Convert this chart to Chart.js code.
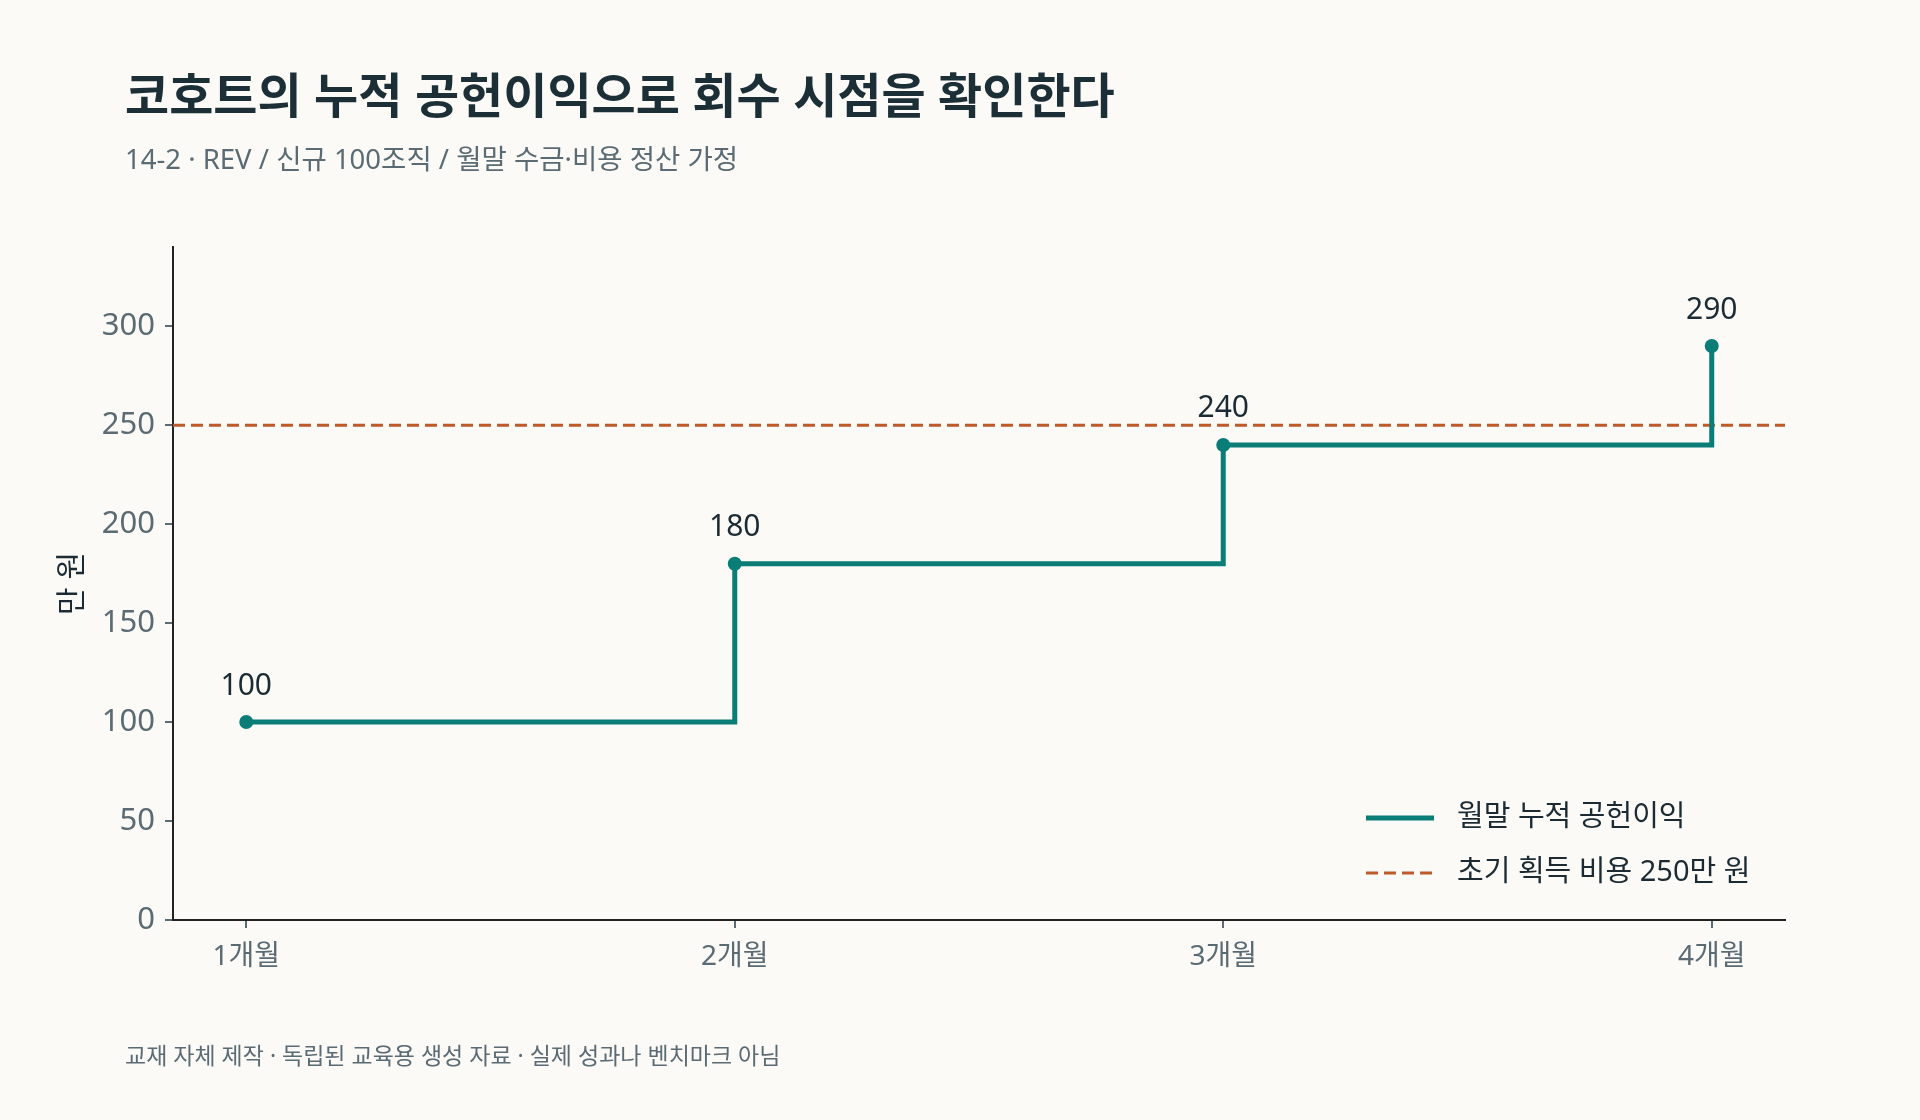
<!DOCTYPE html>
<html lang="ko">
<head>
<meta charset="UTF-8">
<title>코호트 누적 공헌이익</title>
<script src="https://cdn.jsdelivr.net/npm/chart.js"></script>
<style>
    body, html {
        margin: 0;
        padding: 0;
        width: 1920px;
        height: 1120px;
        background: #fbfaf7;
        font-family: "Noto Sans", "Noto Sans CJK KR", sans-serif;
        overflow: hidden;
    }
    #title {
        position: absolute;
        left: 125px;
        top: 66px;
        font-size: 48px;
        line-height: 58px;
        font-weight: bold;
        color: #1c2e36;
    }
    #subtitle {
        position: absolute;
        left: 125px;
        top: 141px;
        font-size: 27.5px;
        line-height: 36px;
        color: #5b6b73;
    }
    #footer {
        position: absolute;
        left: 125px;
        top: 1040px;
        font-size: 23px;
        line-height: 30px;
        color: #5b6b73;
    }
    #chartBox {
        position: absolute;
        left: 0;
        top: 0;
        width: 1920px;
        height: 1120px;
    }
</style>
</head>
<body>
    <div id="chartBox"><canvas id="stepChart" width="1920" height="1120"></canvas></div>
    <div id="title">코호트의 누적 공헌이익으로 회수 시점을 확인한다</div>
    <div id="subtitle">14-2 · REV / 신규 100조직 / 월말 수금·비용 정산 가정</div>
    <div id="footer">교재 자체 제작 · 독립된 교육용 생성 자료 · 실제 성과나 벤치마크 아님</div>

<script>
    // données
    const months = [1, 2, 3, 4];
    const monthLabels = ['1개월', '2개월', '3개월', '4개월'];
    const cumProfit = [100, 180, 240, 290];
    const acqCost = 250;
    const yTicks = [0, 50, 100, 150, 200, 250, 300];
    const seriesNames = ['월말 누적 공헌이익', '초기 획득 비용 250만 원'];

    const X_MIN = 0.85, X_MAX = 4.15, Y_MAX = 340;
    const TEAL = '#0b7d77';
    const RUST = '#bd5b2b';
    const FONT = '"Noto Sans", "Noto Sans CJK KR", sans-serif';

    // étiquettes de valeur au-dessus des points
    const valueLabels = {
        id: 'valueLabels',
        afterDatasetsDraw(chart) {
            const ctx = chart.ctx;
            const meta = chart.getDatasetMeta(0);
            ctx.save();
            ctx.font = '30px ' + FONT;
            ctx.fillStyle = '#1c2b33';
            ctx.textAlign = 'center';
            ctx.textBaseline = 'middle';
            meta.data.forEach((pt, i) => {
                ctx.fillText(String(cumProfit[i]), pt.x, pt.y - 36);
            });
            ctx.restore();
        }
    };

    // légende dans le coin bas-droit
    const cornerLegend = {
        id: 'cornerLegend',
        afterDraw(chart) {
            const ctx = chart.ctx;
            const rows = [818, 873];
            ctx.save();
            chart.data.datasets.forEach((ds, i) => {
                const y = rows[i];
                ctx.strokeStyle = ds.borderColor;
                ctx.lineWidth = ds.borderWidth;
                ctx.setLineDash(ds.borderDash || []);
                ctx.beginPath();
                ctx.moveTo(1366, y);
                ctx.lineTo(1434, y);
                ctx.stroke();
                ctx.setLineDash([]);
                ctx.font = '29px ' + FONT;
                ctx.fillStyle = '#1c2b33';
                ctx.textAlign = 'left';
                ctx.textBaseline = 'middle';
                ctx.fillText(ds.label, 1457, y);
            });
            ctx.restore();
        }
    };

    const chart = new Chart(document.getElementById('stepChart'), {
        type: 'line',
        data: {
            datasets: [{
                label: seriesNames[0],
                data: months.map((m, i) => ({ x: m, y: cumProfit[i] })),
                borderColor: TEAL,
                backgroundColor: TEAL,
                borderWidth: 5,
                stepped: 'before',
                pointRadius: 7,
                pointHoverRadius: 7,
                pointBorderWidth: 0,
                fill: false
            }, {
                label: seriesNames[1],
                data: [{ x: X_MIN, y: acqCost }, { x: X_MAX, y: acqCost }],
                borderColor: RUST,
                borderWidth: 3,
                borderDash: [12, 6],
                pointRadius: 0,
                fill: false
            }]
        },
        options: {
            responsive: false,
            animation: false,
            devicePixelRatio: 1,
            layout: { padding: { left: 0, top: 247, right: 135, bottom: 0 } },
            plugins: {
                legend: { display: false },
                tooltip: { enabled: false }
            },
            scales: {
                x: {
                    type: 'linear',
                    min: X_MIN,
                    max: X_MAX,
                    afterBuildTicks: s => { s.ticks = months.map(v => ({ value: v })); },
                    afterFit: s => { s.height = 200; },
                    border: { display: true, color: '#222222', width: 2 },
                    grid: { drawOnChartArea: false, drawTicks: true, tickLength: 8, color: '#5b6b73', lineWidth: 2 },
                    ticks: {
                        callback: (v) => monthLabels[months.indexOf(v)],
                        font: { family: FONT, size: 28 },
                        color: '#5b6b73',
                        padding: 12,
                        maxRotation: 0
                    }
                },
                y: {
                    min: 0,
                    max: Y_MAX,
                    afterBuildTicks: s => { s.ticks = yTicks.map(v => ({ value: v })); },
                    afterFit: s => { s.width = 173; },
                    border: { display: true, color: '#222222', width: 2 },
                    grid: { drawOnChartArea: false, drawTicks: true, tickLength: 8, color: '#5b6b73', lineWidth: 2 },
                    ticks: {
                        font: { family: FONT, size: 31 },
                        color: '#5b6b73',
                        padding: 10
                    },
                    title: {
                        display: true,
                        text: '만 원',
                        font: { family: FONT, size: 30 },
                        color: '#1c2b33',
                        padding: { top: 54, bottom: 0 }
                    }
                }
            }
        },
        plugins: [valueLabels, cornerLegend]
    });
</script>
</body>
</html>
